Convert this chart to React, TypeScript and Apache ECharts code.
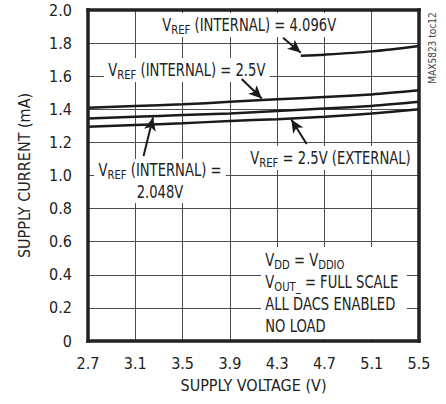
import React, { useEffect, useRef } from "react";
import * as echarts from "echarts";

const X_TICKS = [2.7, 3.1, 3.5, 3.9, 4.3, 4.7, 5.1, 5.5];
const Y_TICKS = [0, 0.2, 0.4, 0.6, 0.8, 1.0, 1.2, 1.4, 1.6, 1.8, 2.0];
const X0 = 2.7;
const voltage = [2.7, 3.1, 3.5, 3.9, 4.3, 4.7, 5.1, 5.5];
const intRef25 = [1.41, 1.42, 1.43, 1.445, 1.46, 1.475, 1.49, 1.515];
const intRef2048 = [1.345, 1.355, 1.365, 1.375, 1.39, 1.405, 1.42, 1.445];
const extRef25 = [1.295, 1.305, 1.315, 1.33, 1.34, 1.355, 1.375, 1.4];
const voltage4096 = [4.5, 4.7, 5.1, 5.5];
const intRef4096 = [1.724, 1.73, 1.75, 1.783];

// arrows: [tailV, tailI, headV, headI]
const arrows = [
  [4.35, 1.833, 4.5, 1.742],
  [4.0, 1.583, 4.17, 1.465],
  [3.17, 1.118, 3.25, 1.35],
  [4.55, 1.19, 4.42, 1.338],
];

const FONT = "DejaVu Sans Condensed, Liberation Sans, sans-serif";

const pts = (xs: number[], ys: number[]) => xs.map((x, i) => [x - X0, ys[i]]);

export default function App() {
  const ref = useRef<HTMLDivElement>(null);
  useEffect(() => {
    if (!ref.current) return;
    document.body.style.margin = "0";
    const chart = echarts.init(ref.current, null, { renderer: "svg" });
    const rich = {
      n: { fontSize: 17, fontFamily: FONT, color: "#222222", lineHeight: 22 },
      s: { fontSize: 13, fontFamily: FONT, color: "#222222", verticalAlign: "bottom", lineHeight: 22, padding: [5, 0, 0, 0] },
    };
    const lineStyle = { color: "#1a1a1a", width: 2.5 };
    const SX = 0.86;
    const mkText = (x: number, y: number, text: string, align = "left", pad: number[] = [1, 5, 1, 5]) => ({
      type: "text",
      x,
      y,
      scaleX: SX,
      zlevel: 1,
      z: 3,
      style: {
        text,
        rich,
        font: `17px ${FONT}`,
        align,
        verticalAlign: "middle",
        backgroundColor: "#ffffff",
        padding: pad,
        fill: "#222222",
      },
    });
    const xMin = 0;
    const xMax = X_TICKS[X_TICKS.length - 1] - X0;
    const yMin = Y_TICKS[0];
    const yMax = Y_TICKS[Y_TICKS.length - 1];
    const vLine = (x: number) => [{ coord: [x, yMin] }, { coord: [x, yMax] }];
    const hLine = (y: number) => [{ coord: [xMin, y] }, { coord: [xMax, y] }];
    const gridLines = [
      ...X_TICKS.slice(1, -1).map((v) => vLine(v - X0)),
      ...Y_TICKS.slice(1, -1).map((v) => hLine(v)),
    ];
    const frame = [vLine(xMin), vLine(xMax), hLine(yMin), hLine(yMax)];
    const curve = (data: number[][], extra: object = {}) => ({
      type: "line",
      data,
      showSymbol: false,
      smooth: 0.3,
      lineStyle,
      zlevel: 1,
      z: 4,
      ...extra,
    });
    chart.setOption({
      animation: false,
      grid: { left: 88, right: 27, top: 10, bottom: 63 },
      xAxis: {
        type: "value",
        min: xMin,
        max: xMax,
        interval: 0.4,
        axisLine: { show: false },
        axisTick: { show: false },
        splitLine: { show: false },
        axisLabel: {
          margin: 14,
          fontSize: 16,
          fontFamily: FONT,
          color: "#222222",
          formatter: (v: number) => (v + X0).toFixed(1),
        },
        name: "SUPPLY VOLTAGE (V)",
        nameLocation: "middle",
        nameGap: 36,
        nameTextStyle: { fontSize: 16, fontFamily: FONT, color: "#222222" },
      },
      yAxis: {
        type: "value",
        min: yMin,
        max: yMax,
        interval: 0.2,
        axisLine: { show: false },
        axisTick: { show: false },
        splitLine: { show: false },
        axisLabel: {
          margin: 16,
          fontSize: 16,
          fontFamily: FONT,
          color: "#222222",
          formatter: (v: number) => (v === 0 ? "0" : v.toFixed(1)),
        },
        name: "SUPPLY CURRENT (mA)",
        nameLocation: "middle",
        nameGap: 56,
        nameTextStyle: { fontSize: 16, fontFamily: FONT, color: "#222222" },
      },
      series: [
        curve(pts(voltage, intRef25), {
          markLine: {
            silent: true,
            animation: false,
            zlevel: 1,
            z: 1,
            clip: false,
            symbol: ["none", "none"],
            label: { show: false },
            lineStyle: { color: "#4d4d4d", width: 1, type: "solid" },
            data: gridLines,
          },
        }),
        curve(pts(voltage, intRef2048), {
          markLine: {
            silent: true,
            animation: false,
            zlevel: 1,
            z: 6,
            clip: false,
            symbol: ["none", "arrow"],
            symbolSize: [9, 13],
            label: { show: false },
            lineStyle: { color: "#1a1a1a", width: 2, type: "solid" },
            data: arrows.map((a) => [
              { coord: [a[0] - X0, a[1]] },
              { coord: [a[2] - X0, a[3]] },
            ]),
          },
        }),
        curve(pts(voltage, extRef25), {
          markLine: {
            silent: true,
            animation: false,
            zlevel: 1,
            z: 7,
            clip: false,
            symbol: ["none", "none"],
            label: { show: false },
            lineStyle: { color: "#222222", width: 3.5, type: "solid", cap: "square" },
            data: frame,
          },
        }),
        curve(pts(voltage4096, intRef4096)),
      ],
      graphic: [
        mkText(158, 25, "{n|V}{s|REF}{n| (INTERNAL) = 4.096V}"),
        mkText(104, 70, "{n|V}{s|REF}{n| (INTERNAL) = 2.5V}"),
        mkText(160, 181, "{n|V}{s|REF}{n| (INTERNAL) =}\n{n|2.048V}", "center", [0, 5, 0, 5]),
        mkText(246, 158, "{n|V}{s|REF}{n| = 2.5V (EXTERNAL)}"),
        mkText(
          261,
          293,
          "{n|V}{s|DD}{n| = V}{s|DDIO}\n{n|V}{s|OUT_}{n| = FULL SCALE}\n{n|ALL DACS ENABLED}\n{n|NO LOAD}",
          "left",
          [2, 10, 2, 5]
        ),
        {
          type: "text",
          x: 432,
          y: 48,
          rotation: Math.PI / 2,
          style: {
            text: "MAX5823 toc12",
            font: `10px ${FONT}`,
            fill: "#444444",
            align: "center",
            verticalAlign: "middle",
          },
        },
      ],
    });
    return () => chart.dispose();
  }, []);
  return <div ref={ref} style={{ width: 446, height: 404 }} />;
}
